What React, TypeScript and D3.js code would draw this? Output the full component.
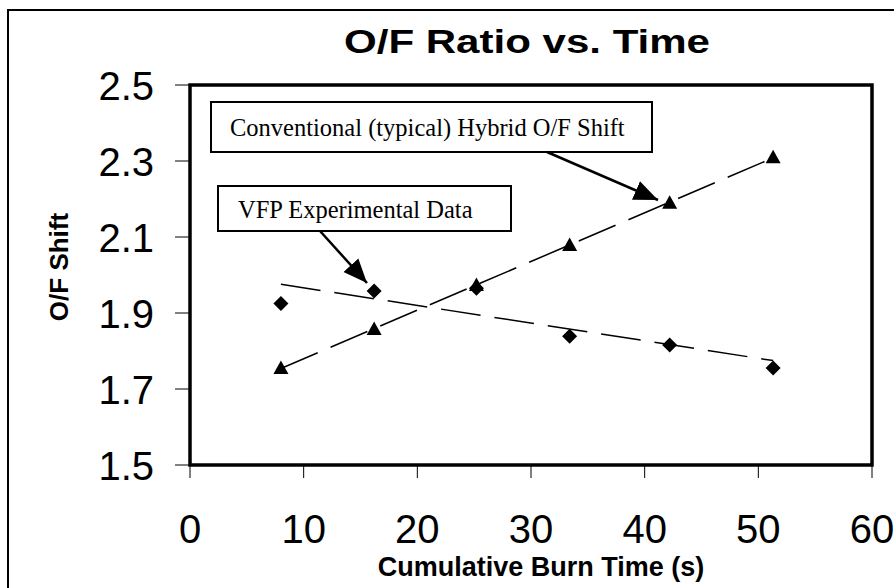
import React from 'react';
import * as d3 from 'd3';

// ---- data ----
const times = [8, 16.2, 25.2, 33.4, 42.2, 51.3];
const vfpValues = [1.925, 1.958, 1.965, 1.839, 1.816, 1.755];
const conventionalValues = [1.755, 1.858, 1.974, 2.079, 2.19, 2.31];
const xTicks = [0, 10, 20, 30, 40, 50, 60];
const yTicks = [1.5, 1.7, 1.9, 2.1, 2.3, 2.5];
const chartTitle = 'O/F Ratio vs. Time';
const xTitle = 'Cumulative Burn Time (s)';
const yTitle = 'O/F Shift';
const calloutTexts = ['Conventional (typical) Hybrid O/F Shift', 'VFP Experimental Data'];

const W = 894;
const H = 588;
const plot = { left: 190, right: 872, top: 85, bottom: 465 };

function fit(xs: number[], ys: number[]) {
  const mx = d3.mean(xs) as number;
  const my = d3.mean(ys) as number;
  let sxy = 0, sxx = 0;
  xs.forEach((x, i) => { sxy += (x - mx) * (ys[i] - my); sxx += (x - mx) * (x - mx); });
  const b = sxy / sxx;
  const a = my - b * mx;
  return (x: number) => a + b * x;
}

export default function App() {
  const x = d3.scaleLinear().domain([0, 60]).range([plot.left, plot.right]);
  const y = d3.scaleLinear().domain([1.5, 2.5]).range([plot.bottom, plot.top]);
  const sans = 'Arial, "Liberation Sans", Helvetica, sans-serif';
  const serif = '"Times New Roman", "Liberation Serif", serif';

  const x0 = d3.min(times) as number;
  const x1 = d3.max(times) as number;
  const fv = fit(times, vfpValues);
  const fc = fit(times, conventionalValues);
  const line = d3.line<[number, number]>().x(d => x(d[0])).y(d => y(d[1]));

  const diamond = 'M0,-7.5L7.5,0L0,7.5L-7.5,0Z';
  const triangle = 'M0,-7.5L7.5,6L-7.5,6Z';

  return (
    <svg width={W} height={H} style={{ position: 'absolute', left: 0, top: 0, background: '#fff' }}>
      <defs>
        <marker id="ah" markerUnits="userSpaceOnUse" markerWidth="26" markerHeight="22" refX="24" refY="11" orient="auto">
          <path d="M0,1L24,11L0,21Z" fill="#000" />
        </marker>
      </defs>
      <rect x={0} y={0} width={W} height={H} fill="#fff" />
      {/* outer frame */}
      <rect x={8} y={10} width={W} height={H} fill="none" stroke="#000" strokeWidth={2} />
      {/* title */}
      <text x={527} y={53} textAnchor="middle" fontFamily={sans} fontWeight="bold" fontSize={34} textLength={366} lengthAdjust="spacingAndGlyphs">{chartTitle}</text>

      {/* y ticks */}
      {yTicks.map(t => (
        <g key={'y' + t}>
          <line x1={175} x2={plot.left} y1={y(t)} y2={y(t)} stroke="#000" strokeWidth={1} />
          <text x={154} y={y(t) + 15} textAnchor="end" fontFamily={sans} fontSize={40}>{t.toFixed(1)}</text>
        </g>
      ))}
      {/* x ticks */}
      {xTicks.map(t => (
        <g key={'x' + t}>
          <line x1={x(t)} x2={x(t)} y1={plot.bottom} y2={plot.bottom + 13} stroke="#000" strokeWidth={1} />
          <text x={x(t)} y={543} textAnchor="middle" fontFamily={sans} fontSize={40}>{t}</text>
        </g>
      ))}
      {/* plot border */}
      <rect x={plot.left} y={plot.top} width={plot.right - plot.left} height={plot.bottom - plot.top} fill="none" stroke="#000" strokeWidth={3.5} />

      {/* axis titles */}
      <text x={(plot.left + plot.right) / 2 + 10} y={576} textAnchor="middle" fontFamily={sans} fontWeight="bold" fontSize={27}>{xTitle}</text>
      <text transform={`translate(68,${(plot.top + plot.bottom) / 2 - 8}) rotate(-90)`} textAnchor="middle" fontFamily={sans} fontWeight="bold" fontSize={26}>{yTitle}</text>

      {/* trend lines */}
      <path d={line([[x0, fv(x0)], [x1, fv(x1)]]) as string} fill="none" stroke="#000" strokeWidth={1.5} strokeDasharray="40 14" />
      <path d={line([[x0, fc(x0)], [x1, fc(x1)]]) as string} fill="none" stroke="#000" strokeWidth={1.5} strokeDasharray="40 14" />

      {/* markers */}
      {times.map((t, i) => (
        <path key={'d' + i} d={diamond} transform={`translate(${x(t)},${y(vfpValues[i])})`} fill="#000" />
      ))}
      {times.map((t, i) => (
        <path key={'t' + i} d={triangle} transform={`translate(${x(t)},${y(conventionalValues[i])})`} fill="#000" />
      ))}

      {/* callouts */}
      <rect x={211} y={102} width={441} height={50} fill="#fff" stroke="#000" strokeWidth={2} />
      <text x={230} y={136} fontFamily={serif} fontSize={24.5}>{calloutTexts[0]}</text>
      <line x1={547} y1={152} x2={658} y2={200} stroke="#000" strokeWidth={2.5} markerEnd="url(#ah)" />

      <rect x={218} y={186} width={293} height={45} fill="#fff" stroke="#000" strokeWidth={2} />
      <text x={238} y={218} fontFamily={serif} fontSize={24.5}>{calloutTexts[1]}</text>
      <line x1={320} y1={231} x2={367} y2={283} stroke="#000" strokeWidth={2.5} markerEnd="url(#ah)" />
    </svg>
  );
}
